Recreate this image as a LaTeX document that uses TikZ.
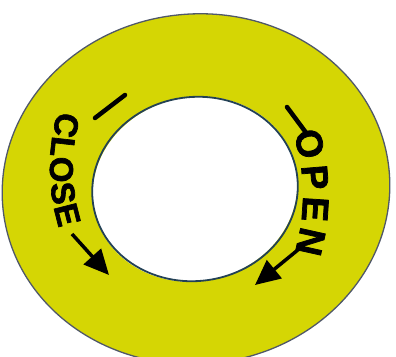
\documentclass[tikz,border=0pt]{standalone}
\usepackage{fontspec}
\setmainfont{Liberation Sans}[BoldFeatures={FakeBold=2}]
\usetikzlibrary{decorations.text,arrows.meta}
\definecolor{ringyellow}{RGB}{213,214,4}
\definecolor{outeredge}{RGB}{80,88,105}
\definecolor{inneredge}{RGB}{35,65,85}
\newcommand\closefont{\fontsize{33}{33}\selectfont\bfseries}
\newcommand\openfont{\fontsize{37}{37}\selectfont\bfseries}
\tikzset{
  outerline/.style={draw=outeredge, line width=1.3pt},
  innerline/.style={draw=inneredge, line width=1.8pt},
  tickmark/.style={line width=4.5pt, line cap=round, draw=black},
  dirarrow/.style={line width=3.5pt, draw=black, -{Triangle[length=25pt,width=23pt]}},
  ringtext/.style={decorate, decoration={text along path, text align=fit to path, text={#1}}}
}
\begin{document}
\begin{tikzpicture}[x=1pt,y=-1pt]
\useasboundingbox (0,0) rectangle (396,356);
\fill[white] (0,0) rectangle (396,356);
\clip (0,0) rectangle (396,356);
% ring
\fill[ringyellow, even odd rule]
  [rotate around={6:(196,189)}] (196,189) ellipse[x radius=194, y radius=175]
  [rotate around={8:(195,189)}] (195,189) ellipse[x radius=103, y radius=92];
\draw[outerline, rotate around={6:(196,189)}] (196,189) ellipse[x radius=194, y radius=175];
\draw[innerline, rotate around={8:(195,189)}] (195,189) ellipse[x radius=103, y radius=92];
% tick marks
\coordinate (lt1) at (95,118);
\coordinate (lt2) at (125,95);
\coordinate (rt1) at (287,107);
\coordinate (rt2) at (307,134);
\draw[tickmark] (lt1) -- (lt2);
\draw[tickmark] (rt1) -- (rt2);
% texts
\path[shift={(250,168)}, ringtext={|\closefont|CLOSE}] (196.5:200) arc[start angle=196.5, end angle=162.5, radius=200];
\path[shift={(100,195)}, ringtext={|\openfont|OPEN}] (-17.8:203) arc[start angle=-17.8, end angle=16.3, radius=203];
% arrows
\coordinate (ca1) at (72,234);
\coordinate (ca2) at (109,275);
\coordinate (oa1) at (299,249);
\coordinate (oa2) at (255,285);
\draw[dirarrow] (ca1) -- (ca2);
\draw[dirarrow] (oa1) -- (oa2);
\end{tikzpicture}
\end{document}
